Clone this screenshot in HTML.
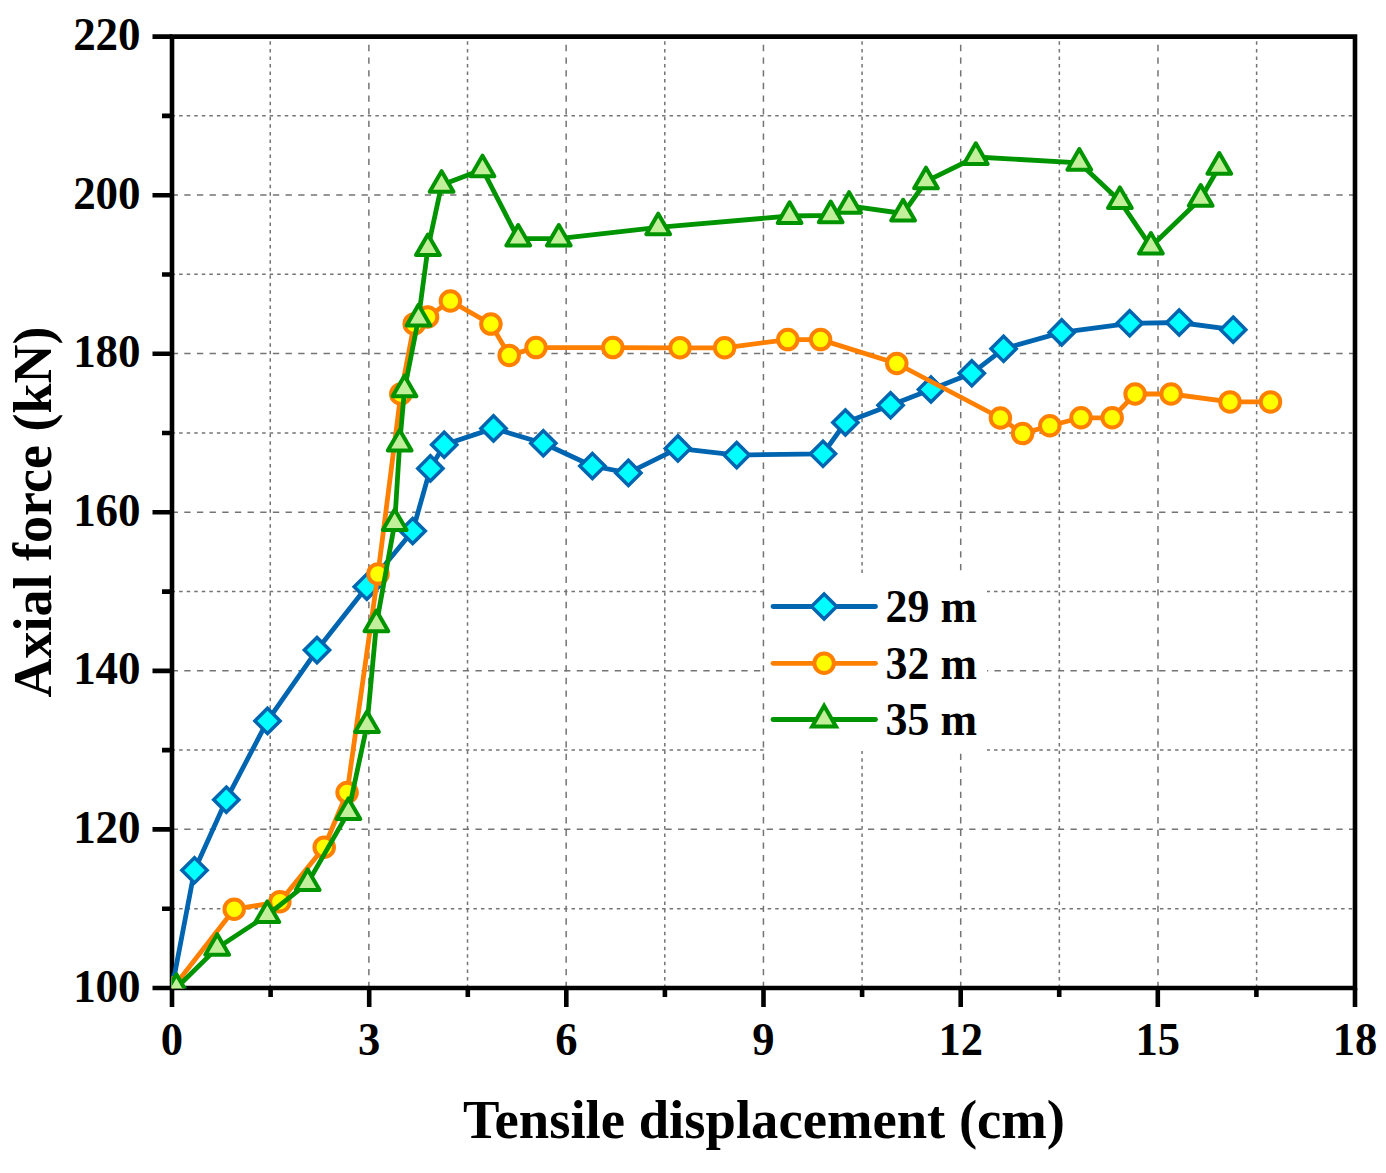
<!DOCTYPE html>
<html><head><meta charset="utf-8"><title>Axial force vs tensile displacement</title>
<style>
html,body{margin:0;padding:0;background:#fff;}
body{width:1386px;height:1173px;overflow:hidden;}
svg{display:block;}
text{font-family:"Liberation Serif",serif;font-weight:bold;fill:#000;}
</style></head><body>
<svg width="1386" height="1173" viewBox="0 0 1386 1173">
<rect width="1386" height="1173" fill="#fff"/>
<defs><clipPath id="pc"><rect x="171.6" y="36.6" width="1183.4" height="951.6"/></clipPath></defs>

<g stroke="#747474" stroke-width="1.5" fill="none"><line x1="270.25" y1="988.0" x2="270.25" y2="36.6" stroke-dasharray="3.5 4.045"/><line x1="368.88" y1="988.0" x2="368.88" y2="36.6" stroke-dasharray="6.33 6.33"/><line x1="467.52" y1="988.0" x2="467.52" y2="36.6" stroke-dasharray="3.5 4.045"/><line x1="566.16" y1="988.0" x2="566.16" y2="36.6" stroke-dasharray="6.33 6.33"/><line x1="664.79" y1="988.0" x2="664.79" y2="36.6" stroke-dasharray="3.5 4.045"/><line x1="763.43" y1="988.0" x2="763.43" y2="36.6" stroke-dasharray="6.33 6.33"/><line x1="862.07" y1="988.0" x2="862.07" y2="36.6" stroke-dasharray="3.5 4.045"/><line x1="960.71" y1="988.0" x2="960.71" y2="36.6" stroke-dasharray="6.33 6.33"/><line x1="1059.34" y1="988.0" x2="1059.34" y2="36.6" stroke-dasharray="3.5 4.045"/><line x1="1157.98" y1="988.0" x2="1157.98" y2="36.6" stroke-dasharray="6.33 6.33"/><line x1="1256.62" y1="988.0" x2="1256.62" y2="36.6" stroke-dasharray="3.5 4.045"/><line x1="171.61" y1="908.67" x2="1355.0" y2="908.67" stroke-dasharray="3.5 4.045"/><line x1="171.61" y1="829.37" x2="1355.0" y2="829.37" stroke-dasharray="6.33 6.33"/><line x1="171.61" y1="750.08" x2="1355.0" y2="750.08" stroke-dasharray="3.5 4.045"/><line x1="171.61" y1="670.78" x2="1355.0" y2="670.78" stroke-dasharray="6.33 6.33"/><line x1="171.61" y1="591.49" x2="1355.0" y2="591.49" stroke-dasharray="3.5 4.045"/><line x1="171.61" y1="512.19" x2="1355.0" y2="512.19" stroke-dasharray="6.33 6.33"/><line x1="171.61" y1="432.89" x2="1355.0" y2="432.89" stroke-dasharray="3.5 4.045"/><line x1="171.61" y1="353.60" x2="1355.0" y2="353.60" stroke-dasharray="6.33 6.33"/><line x1="171.61" y1="274.31" x2="1355.0" y2="274.31" stroke-dasharray="3.5 4.045"/><line x1="171.61" y1="195.01" x2="1355.0" y2="195.01" stroke-dasharray="6.33 6.33"/><line x1="171.61" y1="115.71" x2="1355.0" y2="115.71" stroke-dasharray="3.5 4.045"/></g>
<rect x="766" y="574" width="221" height="177" fill="#fff"/>
<g stroke="#000" stroke-width="4.6" fill="none" stroke-linecap="butt">
<path d="M169.7 36.6H1357.3M1355.0 36.6V988.0M169.7 988.0H1357.3M172.0 36.6V988.0"/>
<path d="M172.0 988.0H152.5M172.0 908.7H162.0M172.0 829.4H152.5M172.0 750.1H162.0M172.0 670.9H152.5M172.0 591.6H162.0M172.0 512.3H152.5M172.0 433.0H162.0M172.0 353.7H152.5M172.0 274.5H162.0M172.0 195.2H152.5M172.0 115.9H162.0M172.0 36.6H152.5M172.0 988.0V1007.0M270.6 988.0V997.0M369.2 988.0V1007.0M467.8 988.0V997.0M566.3 988.0V1007.0M664.9 988.0V997.0M763.5 988.0V1007.0M862.1 988.0V997.0M960.7 988.0V1007.0M1059.2 988.0V997.0M1157.8 988.0V1007.0M1256.4 988.0V997.0M1355.0 988.0V1007.0"/>
</g>
<g clip-path="url(#pc)"><polyline points="172.0,988.0 194.5,870.3 226.3,799.7 267.5,720.9 317.0,650.1 366.8,586.7 412.7,531.0 430.4,468.4 444.2,444.8 493.5,428.4 543.3,443.3 592.4,466.0 628.4,472.9 677.9,448.4 736.7,455.1 823.0,453.8 845.4,422.5 890.6,405.3 931.0,389.5 971.8,373.3 1003.6,348.8 1061.7,332.4 1129.7,323.3 1179.2,322.5 1233.2,329.7" fill="none" stroke="#0065B0" stroke-width="4.8" stroke-linejoin="round" stroke-linecap="round"/><g fill="#00FFFF" stroke="#0065B0" stroke-width="4.0" stroke-linejoin="round"><path stroke-linejoin="miter" stroke-width="3.5" d="M172.0 975.4L184.6 988.0L172.0 1000.6L159.4 988.0Z"/><path stroke-linejoin="miter" stroke-width="3.5" d="M194.5 857.7L207.1 870.3L194.5 882.9L181.9 870.3Z"/><path stroke-linejoin="miter" stroke-width="3.5" d="M226.3 787.1L238.9 799.7L226.3 812.3L213.7 799.7Z"/><path stroke-linejoin="miter" stroke-width="3.5" d="M267.5 708.3L280.1 720.9L267.5 733.5L254.9 720.9Z"/><path stroke-linejoin="miter" stroke-width="3.5" d="M317.0 637.5L329.6 650.1L317.0 662.7L304.4 650.1Z"/><path stroke-linejoin="miter" stroke-width="3.5" d="M366.8 574.1L379.4 586.7L366.8 599.3L354.2 586.7Z"/><path stroke-linejoin="miter" stroke-width="3.5" d="M412.7 518.4L425.3 531.0L412.7 543.6L400.1 531.0Z"/><path stroke-linejoin="miter" stroke-width="3.5" d="M430.4 455.8L443.0 468.4L430.4 481.0L417.8 468.4Z"/><path stroke-linejoin="miter" stroke-width="3.5" d="M444.2 432.2L456.8 444.8L444.2 457.4L431.6 444.8Z"/><path stroke-linejoin="miter" stroke-width="3.5" d="M493.5 415.8L506.1 428.4L493.5 441.0L480.9 428.4Z"/><path stroke-linejoin="miter" stroke-width="3.5" d="M543.3 430.7L555.9 443.3L543.3 455.9L530.7 443.3Z"/><path stroke-linejoin="miter" stroke-width="3.5" d="M592.4 453.4L605.0 466.0L592.4 478.6L579.8 466.0Z"/><path stroke-linejoin="miter" stroke-width="3.5" d="M628.4 460.3L641.0 472.9L628.4 485.5L615.8 472.9Z"/><path stroke-linejoin="miter" stroke-width="3.5" d="M677.9 435.8L690.5 448.4L677.9 461.0L665.3 448.4Z"/><path stroke-linejoin="miter" stroke-width="3.5" d="M736.7 442.5L749.3 455.1L736.7 467.7L724.1 455.1Z"/><path stroke-linejoin="miter" stroke-width="3.5" d="M823.0 441.2L835.6 453.8L823.0 466.4L810.4 453.8Z"/><path stroke-linejoin="miter" stroke-width="3.5" d="M845.4 409.9L858.0 422.5L845.4 435.1L832.8 422.5Z"/><path stroke-linejoin="miter" stroke-width="3.5" d="M890.6 392.7L903.2 405.3L890.6 417.9L878.0 405.3Z"/><path stroke-linejoin="miter" stroke-width="3.5" d="M931.0 376.9L943.6 389.5L931.0 402.1L918.4 389.5Z"/><path stroke-linejoin="miter" stroke-width="3.5" d="M971.8 360.7L984.4 373.3L971.8 385.9L959.2 373.3Z"/><path stroke-linejoin="miter" stroke-width="3.5" d="M1003.6 336.2L1016.2 348.8L1003.6 361.4L991.0 348.8Z"/><path stroke-linejoin="miter" stroke-width="3.5" d="M1061.7 319.8L1074.3 332.4L1061.7 345.0L1049.1 332.4Z"/><path stroke-linejoin="miter" stroke-width="3.5" d="M1129.7 310.7L1142.3 323.3L1129.7 335.9L1117.1 323.3Z"/><path stroke-linejoin="miter" stroke-width="3.5" d="M1179.2 309.9L1191.8 322.5L1179.2 335.1L1166.6 322.5Z"/><path stroke-linejoin="miter" stroke-width="3.5" d="M1233.2 317.1L1245.8 329.7L1233.2 342.3L1220.6 329.7Z"/></g></g>
<g clip-path="url(#pc)"><polyline points="172.8,988.0 234.2,909.2 279.9,901.8 324.2,847.2 347.1,792.5 378.0,573.9 400.8,394.0 414.2,323.9 427.6,316.9 450.4,301.0 490.9,324.1 509.2,355.4 536.0,347.6 612.8,347.6 680.0,347.8 724.6,347.8 787.8,339.6 820.6,339.6 896.8,363.5 1000.4,418.0 1022.6,433.6 1049.8,425.8 1081.0,417.8 1112.2,417.8 1135.1,394.0 1171.1,394.0 1230.0,401.9 1270.5,401.9" fill="none" stroke="#FF7F00" stroke-width="4.8" stroke-linejoin="round" stroke-linecap="round"/><g fill="#FFFF00" stroke="#FF7F00" stroke-width="4.0" stroke-linejoin="round"><circle cx="172.8" cy="988.0" r="9.75"/><circle cx="234.2" cy="909.2" r="9.75"/><circle cx="279.9" cy="901.8" r="9.75"/><circle cx="324.2" cy="847.2" r="9.75"/><circle cx="347.1" cy="792.5" r="9.75"/><circle cx="378.0" cy="573.9" r="9.75"/><circle cx="400.8" cy="394.0" r="9.75"/><circle cx="414.2" cy="323.9" r="9.75"/><circle cx="427.6" cy="316.9" r="9.75"/><circle cx="450.4" cy="301.0" r="9.75"/><circle cx="490.9" cy="324.1" r="9.75"/><circle cx="509.2" cy="355.4" r="9.75"/><circle cx="536.0" cy="347.6" r="9.75"/><circle cx="612.8" cy="347.6" r="9.75"/><circle cx="680.0" cy="347.8" r="9.75"/><circle cx="724.6" cy="347.8" r="9.75"/><circle cx="787.8" cy="339.6" r="9.75"/><circle cx="820.6" cy="339.6" r="9.75"/><circle cx="896.8" cy="363.5" r="9.75"/><circle cx="1000.4" cy="418.0" r="9.75"/><circle cx="1022.6" cy="433.6" r="9.75"/><circle cx="1049.8" cy="425.8" r="9.75"/><circle cx="1081.0" cy="417.8" r="9.75"/><circle cx="1112.2" cy="417.8" r="9.75"/><circle cx="1135.1" cy="394.0" r="9.75"/><circle cx="1171.1" cy="394.0" r="9.75"/><circle cx="1230.0" cy="401.9" r="9.75"/><circle cx="1270.5" cy="401.9" r="9.75"/></g></g>
<g clip-path="url(#pc)"><polyline points="176.4,988.0 217.2,947.9 267.3,915.1 307.7,883.1 348.4,812.1 367.0,725.2 376.4,624.3 394.7,523.2 399.7,443.7 404.5,389.4 418.5,318.5 427.9,248.2 441.6,184.9 482.5,169.4 518.2,238.7 558.8,238.7 658.2,227.4 789.6,216.0 830.7,215.3 849.1,205.9 903.1,213.5 926.0,181.4 975.8,157.0 1079.3,162.8 1119.9,201.1 1150.9,246.7 1200.7,198.8 1219.3,166.8" fill="none" stroke="#009400" stroke-width="4.8" stroke-linejoin="round" stroke-linecap="round"/><g fill="#C2F09A" stroke="#009400" stroke-width="4.0" stroke-linejoin="round"><path d="M176.4 974.3L188.3 994.9L164.5 994.9Z"/><path d="M217.2 934.2L229.1 954.8L205.3 954.8Z"/><path d="M267.3 901.4L279.2 922.0L255.4 922.0Z"/><path d="M307.7 869.4L319.6 890.0L295.8 890.0Z"/><path d="M348.4 798.4L360.3 819.0L336.5 819.0Z"/><path d="M367.0 711.5L378.9 732.1L355.1 732.1Z"/><path d="M376.4 610.6L388.3 631.2L364.5 631.2Z"/><path d="M394.7 509.5L406.6 530.1L382.8 530.1Z"/><path d="M399.7 430.0L411.6 450.6L387.8 450.6Z"/><path d="M404.5 375.7L416.4 396.3L392.6 396.3Z"/><path d="M418.5 304.8L430.4 325.4L406.6 325.4Z"/><path d="M427.9 234.5L439.8 255.1L416.0 255.1Z"/><path d="M441.6 171.2L453.5 191.8L429.7 191.8Z"/><path d="M482.5 155.7L494.4 176.3L470.6 176.3Z"/><path d="M518.2 225.0L530.1 245.6L506.3 245.6Z"/><path d="M558.8 225.0L570.7 245.6L546.9 245.6Z"/><path d="M658.2 213.7L670.1 234.3L646.3 234.3Z"/><path d="M789.6 202.3L801.5 222.9L777.7 222.9Z"/><path d="M830.7 201.6L842.6 222.2L818.8 222.2Z"/><path d="M849.1 192.2L861.0 212.8L837.2 212.8Z"/><path d="M903.1 199.8L915.0 220.4L891.2 220.4Z"/><path d="M926.0 167.7L937.9 188.3L914.1 188.3Z"/><path d="M975.8 143.3L987.7 163.9L963.9 163.9Z"/><path d="M1079.3 149.1L1091.2 169.7L1067.4 169.7Z"/><path d="M1119.9 187.4L1131.8 208.0L1108.0 208.0Z"/><path d="M1150.9 233.0L1162.8 253.6L1139.0 253.6Z"/><path d="M1200.7 185.1L1212.6 205.7L1188.8 205.7Z"/><path d="M1219.3 153.1L1231.2 173.7L1207.4 173.7Z"/></g></g>
<text transform="translate(140.6,1001.55) scale(1,1.03)" text-anchor="end" font-size="45">100</text><text transform="translate(140.6,842.98) scale(1,1.03)" text-anchor="end" font-size="45">120</text><text transform="translate(140.6,684.42) scale(1,1.03)" text-anchor="end" font-size="45">140</text><text transform="translate(140.6,525.85) scale(1,1.03)" text-anchor="end" font-size="45">160</text><text transform="translate(140.6,367.28) scale(1,1.03)" text-anchor="end" font-size="45">180</text><text transform="translate(140.6,208.72) scale(1,1.03)" text-anchor="end" font-size="45">200</text><text transform="translate(140.6,50.15) scale(1,1.03)" text-anchor="end" font-size="45">220</text><text transform="translate(172.00,1054.95) scale(0.99,1.03)" text-anchor="middle" font-size="45">0</text><text transform="translate(369.17,1054.95) scale(0.99,1.03)" text-anchor="middle" font-size="45">3</text><text transform="translate(566.33,1054.95) scale(0.99,1.03)" text-anchor="middle" font-size="45">6</text><text transform="translate(763.50,1054.95) scale(0.99,1.03)" text-anchor="middle" font-size="45">9</text><text transform="translate(960.67,1054.95) scale(0.99,1.03)" text-anchor="middle" font-size="45">12</text><text transform="translate(1157.83,1054.95) scale(0.99,1.03)" text-anchor="middle" font-size="45">15</text><text transform="translate(1355.00,1054.95) scale(0.99,1.03)" text-anchor="middle" font-size="45">18</text>
<text transform="translate(764.1,1138) scale(1.012,1)" text-anchor="middle" font-size="54">Tensile displacement (cm)</text>
<text transform="translate(51.4,512) rotate(-90)" text-anchor="middle" font-size="54">Axial force (kN)</text>
<g stroke-width="4.8" stroke-linecap="round">
<line x1="773" y1="606.5" x2="875.5" y2="606.5" stroke="#0065B0"/>
<line x1="773" y1="663.3" x2="875.5" y2="663.3" stroke="#FF7F00"/>
<line x1="773" y1="719.5" x2="875.5" y2="719.5" stroke="#009400"/>
</g>
<g fill="#00FFFF" stroke="#0065B0" stroke-width="4.0"><path stroke-linejoin="miter" stroke-width="3.5" d="M824.1 593.9L836.7 606.5L824.1 619.1L811.5 606.5Z"/></g>
<g fill="#FFFF00" stroke="#FF7F00" stroke-width="4.0"><circle cx="824.1" cy="663.3" r="9.75"/></g>
<g fill="#C2F09A" stroke="#009400" stroke-width="4.0"><path d="M824.1 705.8L836.0 726.4L812.2 726.4Z"/></g>
<text transform="translate(885.6,622.15) scale(0.975,1.03)" font-size="45">29 m</text>
<text transform="translate(885.6,678.75) scale(0.975,1.03)" font-size="45">32 m</text>
<text transform="translate(885.6,734.75) scale(0.975,1.03)" font-size="45">35 m</text>
</svg></body></html>
